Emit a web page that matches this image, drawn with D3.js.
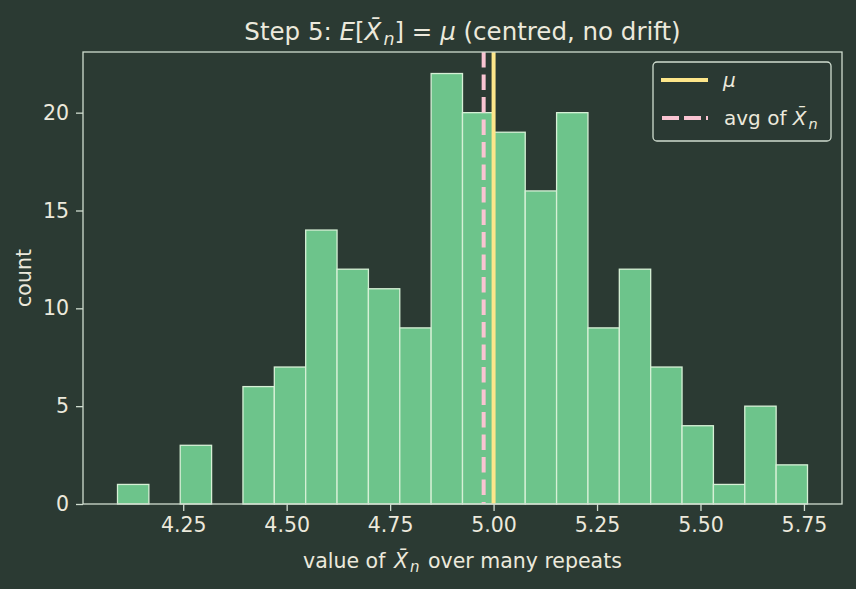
<!DOCTYPE html>
<html>
<head>
<meta charset="utf-8">
<script src="https://cdn.jsdelivr.net/npm/d3@7"></script>
<style>
  html, body { margin: 0; padding: 0; background: #2b3a33; }
  svg text { font-family: "DejaVu Sans", sans-serif; fill: #ece9dc; }
</style>
</head>
<body>
<div id="viz"></div>
<script>
// histogram of sample means, 22 bins
const binStart = 4.0912, binWidth = 0.07579;
const counts = [1, 0, 3, 0, 6, 7, 14, 12, 11, 9, 22, 20, 19, 16, 20, 9, 12, 7, 4, 1, 5, 2];
const mu = 5.0, avgMean = 4.976;
const xTicks = [4.25, 4.5, 4.75, 5.0, 5.25, 5.5, 5.75];
const yTicks = [0, 5, 10, 15, 20];

const W = 856, H = 589;
const margin = {top: 52, right: 14, bottom: 85, left: 83},
    width = W - margin.left - margin.right,
    height = H - margin.top - margin.bottom;

const bg = "#2b3a33", fg = "#ece9dc", spine = "#cfdccf";

const svg = d3.select("#viz").append("svg")
    .attr("width", W).attr("height", H)
    .style("background", bg);

const g = svg.append("g")
    .attr("transform", "translate(" + margin.left + "," + margin.top + ")");

const bins = counts.map((c, i) => ({x0: binStart + i * binWidth, x1: binStart + (i + 1) * binWidth, c: c}));
const lo = bins[0].x0, hi = bins[bins.length - 1].x1, pad = (hi - lo) * 0.05;

const x = d3.scaleLinear().domain([lo - pad, hi + pad]).range([0, width]);
const y = d3.scaleLinear().domain([0, d3.max(counts) * 1.05]).range([height, 0]);

// bars
g.selectAll(".bar")
    .data(bins.filter(d => d.c > 0))
    .enter().append("rect")
    .attr("x", d => x(d.x0))
    .attr("y", d => y(d.c))
    .attr("width", d => x(d.x1) - x(d.x0))
    .attr("height", d => y(0) - y(d.c))
    .attr("fill", "#6dc48b")
    .attr("stroke", "#d6f0d6")
    .attr("stroke-width", 1.3);

// reference lines
g.append("line")
    .attr("x1", x(mu)).attr("x2", x(mu))
    .attr("y1", 0).attr("y2", height)
    .attr("stroke", "#fde68a").attr("stroke-width", 4);
g.append("line")
    .attr("x1", x(avgMean)).attr("x2", x(avgMean))
    .attr("y1", 0).attr("y2", height)
    .attr("stroke", "#f9c4d2").attr("stroke-width", 4)
    .attr("stroke-dasharray", "15.5,7");

// axes
const xAxis = g.append("g")
    .attr("transform", "translate(0," + height + ")")
    .call(d3.axisBottom(x).tickValues(xTicks).tickFormat(d3.format(".2f")).tickSize(7).tickPadding(6));
const yAxis = g.append("g")
    .call(d3.axisLeft(y).tickValues(yTicks).tickSize(7).tickPadding(7));
[xAxis, yAxis].forEach(a => {
    a.attr("font-size", null).attr("font-family", null);
    a.select(".domain").remove();
    a.selectAll(".tick line").attr("stroke", spine).attr("stroke-width", 1.3);
    a.selectAll(".tick text").style("font-size", "20.5px").attr("fill", fg);
});

// frame
g.append("rect")
    .attr("width", width).attr("height", height)
    .attr("fill", "none").attr("stroke", spine).attr("stroke-width", 1.3);

// title
const title = svg.append("text")
    .attr("x", margin.left + width / 2).attr("y", 40)
    .attr("text-anchor", "middle")
    .style("font-size", "24.5px");
title.append("tspan").text("Step 5: ");
title.append("tspan").style("font-style", "italic").text("E");
title.append("tspan").text("[");
title.append("tspan").style("font-style", "italic").text("X\u0304");
title.append("tspan").style("font-style", "italic").style("font-size", "17.5px").attr("dx", 2).attr("dy", 5).text("n");
title.append("tspan").attr("dy", -5).text("] = ");
title.append("tspan").style("font-style", "italic").text("\u03bc");
title.append("tspan").text(" (centred, no drift)");

// axis labels
const xl = svg.append("text")
    .attr("x", margin.left + width / 2).attr("y", 568)
    .attr("text-anchor", "middle")
    .style("font-size", "20.5px");
xl.append("tspan").text("value of ");
xl.append("tspan").style("font-style", "italic").attr("dx", 2).text("X\u0304");
xl.append("tspan").style("font-style", "italic").style("font-size", "15px").attr("dx", 2).attr("dy", 4).text("n");
xl.append("tspan").attr("dx", 2).attr("dy", -4).text(" over many repeats");

svg.append("text")
    .attr("transform", "translate(31," + (margin.top + height / 2) + ") rotate(-90)")
    .attr("text-anchor", "middle")
    .style("font-size", "20.5px")
    .text("count");

// legend
const lg = svg.append("g").attr("transform", "translate(653,62)");
lg.append("rect")
    .attr("width", 178).attr("height", 79).attr("rx", 4)
    .attr("fill", bg).attr("fill-opacity", 0.8)
    .attr("stroke", spine).attr("stroke-width", 1.3);
lg.append("line").attr("x1", 8).attr("x2", 55).attr("y1", 18).attr("y2", 18)
    .attr("stroke", "#fde68a").attr("stroke-width", 4);
lg.append("text").attr("x", 70).attr("y", 25).style("font-size", "20px")
    .style("font-style", "italic").text("\u03bc");
lg.append("line").attr("x1", 9).attr("x2", 55).attr("y1", 56).attr("y2", 56)
    .attr("stroke", "#f9c4d2").attr("stroke-width", 4).attr("stroke-dasharray", "17,5");
const lt = lg.append("text").attr("x", 71).attr("y", 63).style("font-size", "20px");
lt.append("tspan").text("avg of ");
lt.append("tspan").style("font-style", "italic").text("X\u0304");
lt.append("tspan").style("font-style", "italic").style("font-size", "14.5px").attr("dx", 2).attr("dy", 4).text("n");
</script>
</body>
</html>
